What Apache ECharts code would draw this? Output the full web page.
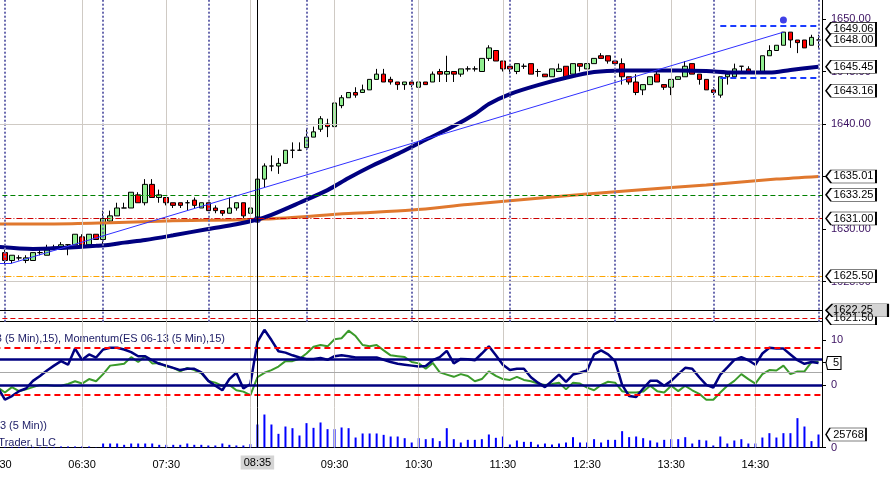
<!DOCTYPE html>
<html>
<head>
<meta charset="utf-8">
<script src="https://cdn.jsdelivr.net/npm/echarts@6/dist/echarts.min.js"></script>
<style>
	html, body { margin: 0; padding: 0; background: #fff; }
	#chart { width: 896px; height: 479px; }
</style>
</head>
<body>
<div id="chart"></div>
<script>
// 5 min bars, 05:30 .. 15:15
var times = [];
for (var m = 5 * 60 + 30; m <= 15 * 60 + 15; m += 5) {
	times.push(('0' + Math.floor(m / 60)).slice(-2) + ':' + ('0' + (m % 60)).slice(-2));
}

// open, close, low, high  (05:35 .. 15:15)
var ohlc = [
	[1627.75, 1627.0, 1626.75, 1628.0], [1627.0, 1627.5, 1626.75, 1627.5], [1627.25, 1627.25, 1627.0, 1627.5],
	[1627.0, 1627.25, 1626.75, 1627.5], [1627.0, 1627.75, 1627.0, 1627.75], [1627.75, 1627.75, 1627.5, 1628.0],
	[1627.5, 1628.0, 1627.5, 1628.5], [1628.25, 1628.25, 1628.0, 1628.5], [1628.25, 1628.5, 1628.0, 1628.75],
	[1628.5, 1628.5, 1627.5, 1628.5], [1628.5, 1629.5, 1628.5, 1629.5], [1629.25, 1628.5, 1628.25, 1629.5],
	[1628.5, 1629.5, 1628.5, 1629.5], [1629.5, 1629.0, 1629.0, 1629.5], [1629.0, 1631.0, 1628.5, 1631.75],
	[1630.75, 1631.25, 1630.5, 1631.75], [1631.25, 1632.0, 1631.25, 1632.5], [1632.0, 1632.0, 1632.0, 1632.5],
	[1632.0, 1633.5, 1632.0, 1633.5], [1633.25, 1632.5, 1632.5, 1633.5], [1632.5, 1634.25, 1632.25, 1634.75],
	[1634.25, 1633.0, 1633.0, 1634.75], [1633.0, 1633.25, 1632.5, 1633.75], [1633.0, 1632.5, 1632.25, 1633.0],
	[1632.5, 1632.25, 1632.0, 1632.5], [1632.5, 1632.25, 1632.0, 1632.5], [1632.5, 1632.5, 1631.75, 1632.75],
	[1632.75, 1632.25, 1632.0, 1633.0], [1632.0, 1632.5, 1632.0, 1632.5], [1632.5, 1631.75, 1631.75, 1632.5],
	[1632.0, 1631.75, 1631.5, 1632.25], [1631.75, 1631.5, 1631.25, 1631.75], [1631.5, 1632.0, 1631.5, 1633.0],
	[1632.0, 1632.5, 1631.75, 1632.5], [1632.5, 1631.25, 1630.75, 1632.5], [1631.5, 1632.0, 1631.25, 1632.0],
	[1631.0, 1634.75, 1630.75, 1635.75], [1634.75, 1636.0, 1634.0, 1636.25], [1636.0, 1636.0, 1635.5, 1637.0],
	[1636.0, 1636.25, 1635.25, 1636.75], [1636.25, 1637.5, 1636.25, 1637.5], [1637.5, 1637.5, 1636.75, 1638.25],
	[1637.5, 1637.5, 1637.5, 1638.25], [1637.75, 1638.75, 1637.5, 1639.5], [1638.75, 1639.25, 1638.75, 1639.75],
	[1639.5, 1640.5, 1639.25, 1640.75], [1640.0, 1639.75, 1638.75, 1640.5], [1639.75, 1642.0, 1639.5, 1642.0],
	[1641.75, 1642.5, 1641.5, 1642.75], [1642.5, 1643.0, 1642.5, 1643.0], [1643.0, 1642.75, 1642.5, 1643.5],
	[1643.0, 1643.25, 1643.0, 1643.75], [1643.25, 1644.25, 1643.25, 1644.25], [1644.25, 1644.75, 1644.25, 1645.25],
	[1644.75, 1644.0, 1644.0, 1645.25], [1644.25, 1644.0, 1643.75, 1644.5], [1644.0, 1643.75, 1643.25, 1644.0],
	[1643.75, 1644.0, 1643.25, 1644.0], [1644.0, 1643.75, 1643.5, 1644.0], [1643.5, 1644.0, 1643.5, 1644.0],
	[1644.0, 1643.75, 1643.75, 1644.0], [1644.0, 1644.75, 1644.0, 1645.0], [1645.0, 1644.75, 1644.0, 1645.25],
	[1644.75, 1645.0, 1644.0, 1646.5], [1645.0, 1644.75, 1644.0, 1645.0], [1644.75, 1645.25, 1644.5, 1645.25],
	[1645.25, 1645.25, 1645.0, 1645.5], [1645.25, 1645.25, 1645.0, 1645.5], [1645.0, 1646.25, 1645.0, 1646.25],
	[1646.25, 1647.25, 1646.0, 1647.5], [1647.0, 1646.0, 1646.0, 1647.0], [1646.0, 1645.25, 1645.0, 1646.0],
	[1645.5, 1645.25, 1644.75, 1645.5], [1645.0, 1645.75, 1644.75, 1645.75], [1645.5, 1645.5, 1645.25, 1645.75],
	[1645.75, 1644.75, 1644.75, 1645.75], [1645.0, 1645.0, 1644.5, 1645.25], [1644.75, 1644.5, 1644.5, 1644.75],
	[1644.5, 1645.25, 1644.5, 1645.25], [1645.0, 1645.25, 1645.0, 1645.75], [1645.5, 1644.5, 1644.5, 1645.5],
	[1644.75, 1645.75, 1644.75, 1645.75], [1645.75, 1645.5, 1645.0, 1645.75], [1645.25, 1645.75, 1645.25, 1645.75],
	[1645.75, 1646.25, 1645.75, 1646.25], [1646.5, 1646.25, 1646.25, 1646.75], [1646.5, 1646.0, 1645.75, 1646.5],
	[1646.0, 1645.75, 1645.75, 1646.0], [1645.75, 1644.5, 1643.75, 1646.25], [1644.5, 1644.0, 1643.75, 1644.5],
	[1644.0, 1643.0, 1642.75, 1644.75], [1643.25, 1643.75, 1642.75, 1643.75], [1643.75, 1644.5, 1643.75, 1644.5],
	[1644.75, 1644.0, 1644.0, 1645.0], [1643.75, 1643.5, 1643.25, 1643.75], [1643.5, 1644.25, 1642.75, 1644.25],
	[1644.25, 1644.5, 1644.25, 1644.5], [1644.5, 1645.5, 1644.5, 1646.0], [1645.75, 1644.75, 1644.75, 1645.75],
	[1644.75, 1644.25, 1643.75, 1644.75], [1644.25, 1643.25, 1643.25, 1644.25], [1643.25, 1643.0, 1642.75, 1643.5],
	[1642.75, 1644.5, 1642.5, 1644.5], [1644.5, 1644.75, 1643.75, 1645.0], [1644.5, 1645.25, 1644.5, 1645.75],
	[1645.5, 1645.5, 1645.0, 1645.5], [1645.25, 1645.0, 1645.0, 1645.5], [1645.0, 1645.0, 1645.0, 1645.25],
	[1645.0, 1646.5, 1645.0, 1646.5], [1646.5, 1647.0, 1646.5, 1647.5], [1647.0, 1647.5, 1647.0, 1647.5],
	[1647.5, 1648.75, 1647.5, 1648.75], [1648.75, 1648.0, 1647.25, 1648.75], [1648.0, 1647.75, 1646.75, 1648.0],
	[1648.0, 1647.25, 1647.25, 1648.0], [1647.5, 1648.25, 1647.5, 1648.5], [1648.0, 1648.0, 1647.25, 1648.5]
];

// moving averages, read at a few bars
var fastMaTimes = ['05:30', '05:55', '06:15', '06:40', '06:50', '07:00', '07:15', '07:35', '08:00', '08:20', '08:35', '08:45',
	'09:05', '09:25', '09:40', '09:55', '10:15', '10:35', '10:55', '11:10', '11:20', '11:35', '11:55', '12:15',
	'12:35', '12:55', '13:35', '13:55', '14:15', '14:40', '14:55', '15:15'];
var fastMaValues = [1628.3, 1628.1, 1628.2, 1628.4, 1628.5, 1628.7, 1628.95, 1629.4, 1630.0, 1630.45, 1630.9, 1631.35,
	1632.5, 1633.7, 1634.85, 1635.9, 1637.15, 1638.5, 1639.8, 1640.95, 1641.9, 1642.85, 1643.7, 1644.4,
	1644.95, 1645.1, 1645.1, 1645.05, 1644.9, 1644.9, 1645.15, 1645.45];
var slowMaTimes = ['05:30', '06:10', '06:45', '07:30', '08:40', '09:40', '10:25', '11:05', '12:05', '12:55', '13:55', '14:45', '15:15'];
var slowMaValues = [1630.48, 1630.48, 1630.57, 1630.76, 1630.95, 1631.48, 1631.8, 1632.33, 1633.05, 1633.6, 1634.2, 1634.75, 1635.01];

// indicator panel (05:30 .. 15:15)
var momNavy = [-0.6, -3.3, -2.5, -1.4, -0.8, 0.9, 2.0, 3.2, 4.3, 5.3, 4.5, 8.1, 5.6, 6.8, 6.1, 7.9, 8.3, 8.3, 7.9, 7.3,
	6.4, 6.4, 5.5, 4.7, 4.3, 3.8, 3.3, 3.6, 3.6, 2.8, 0.9, -0.2, -1.2, 1.3, 2.7, -0.8, 0.2, 9.6, 12.3, 10.0,
	7.5, 7.2, 6.6, 6.1, 5.8, 5.8, 6.0, 5.6, 6.4, 6.6, 6.4, 6.1, 6.1, 6.1, 6.1, 5.6, 5.1, 4.7, 4.5, 4.3,
	4.1, 4.2, 5.5, 6.2, 7.6, 4.8, 5.8, 5.7, 5.5, 7.0, 8.6, 6.6, 4.5, 3.3, 3.6, 3.6, 1.7, 0.5, -0.5, 0.9,
	2.3, 0.7, 2.3, 2.7, 3.2, 6.8, 7.7, 6.8, 5.3, 0.0, -2.5, -2.7, -0.8, 0.9, 0.9, -0.2, 0.9, 2.4, 3.8, 3.6,
	1.7, 0.0, -0.6, 2.3, 3.9, 5.6, 6.2, 5.5, 4.5, 7.0, 8.3, 8.1, 8.1, 6.8, 5.5, 4.7, 5.1, 4.9];
var momGreen = [-0.6, -1.7, -0.5, -1.4, -1.0, -0.5, 0.0, 0.0, -0.2, -0.2, 0.2, 0.8, 0.3, 1.3, 0.8, 2.4, 4.3, 4.5, 4.7, 6.2,
	5.1, 6.4, 4.8, 4.9, 4.1, 3.8, 3.0, 3.8, 3.3, 2.6, 0.9, 0.5, -0.2, 0.0, -1.2, -1.5, -2.3, 1.7, 2.7, 3.3,
	4.1, 5.3, 5.3, 5.8, 7.0, 8.5, 8.9, 8.6, 10.2, 10.4, 12.1, 10.9, 8.9, 8.6, 8.9, 7.7, 6.6, 6.4, 6.2, 5.1,
	4.8, 3.6, 4.9, 2.8, 2.3, 1.8, 2.4, 2.0, 0.8, 1.3, 3.0, 2.0, 1.3, 1.1, 1.8, 1.1, 0.8, 0.3, 0.0, 0.2,
	0.5, -1.0, 0.5, 0.3, -0.6, -1.2, 0.0, 0.7, 0.5, -1.4, -1.7, -1.7, -1.5, -0.2, -1.4, -1.7, -0.2, -1.4, -0.2, -1.2,
	-2.0, -3.3, -3.3, -1.7, -0.2, 0.9, 2.4, 1.3, 0.3, 2.4, 3.3, 3.2, 4.3, 2.4, 3.0, 3.0, 5.1, 5.1];

// volume (05:35 .. 15:15)
var volumes = [1200, 1200, 1200, 1200, 1200, 1200, 1200, 1200, 2000, 2000, 2000, 2000, 2000, 600,
	7900, 7900, 7900, 5300, 7900, 7900, 7900, 7900, 5300, 5300, 5300, 5300, 7900, 5300, 5300, 4000, 4000, 7900, 5300, 4000, 4000, 6600,
	45600, 65400, 45600, 27100, 41600, 38300, 23800, 48300, 39000, 49600, 36400, 36400, 39700, 38300, 19800, 27800, 27800, 27800,
	25100, 21800, 21800, 18500, 9900, 18500, 16500, 18500, 12600, 38300,
	16500, 9900, 15200, 15200, 16500, 25800, 19200, 21800, 5900, 13900, 11200, 11200, 5900, 7900, 5900, 7900, 9900, 20500,
	9900, 9900, 16500, 9900, 15200, 15200, 32400, 20500, 21800, 18500, 13900, 9900, 15200, 16500, 16500, 20500, 7900, 15200,
	13900, 4000, 21800, 7900, 13900, 16500, 7900, 7900, 19800, 28400, 19800, 28400, 28400, 58200, 41600, 12600, 25768];

// price tags on the right axis
var priceTags = [1649.06, 1648.00, 1645.45, 1643.16, 1635.01, 1633.25, 1631.00, 1625.50, 1621.50];
var cursorTime = '08:35';
var cursorPrice = 1622.25;
var momTag = 4.9;
var volTag = 25768;

var FONT = 'Liberation Sans';
var lastTime = times[times.length - 1];
var halfHours = times.filter(function(t) { return t.slice(3) === '30'; });
var dotTimes = ['05:35', '06:45', '08:00', '09:10', '10:25', '11:35', '12:50', '14:00', '15:15'];

function pairs(ts, vs) {
	return ts.map(function(t, i) { return [t, vs[i]]; });
}
function vLines(list, style) {
	return list.map(function(t) { return { xAxis: t, lineStyle: style }; });
}
// arrow shaped value tag hanging off the right axis
function tag(v, text, w, bg, dx) {
	return {
		coord: [lastTime, v],
		value: text,
		symbol: 'path://M0,6L6,0H60V12H6Z',
		symbolSize: [w, 13],
		symbolKeepAspect: false,
		symbolOffset: [7.5 + w / 2, 0],
		itemStyle: { color: bg || '#fff', borderColor: '#000', borderWidth: 1 },
		label: {
			show: true, position: 'inside', offset: [dx === undefined ? 2.5 : dx, 0], formatter: text,
			color: '#000', fontFamily: FONT, fontSize: 11
		}
	};
}
function tags(data) {
	return { silent: true, animation: false, emphasis: { disabled: true }, data: data };
}

var gridLine = { color: '#cfcac4', width: 1, type: 'solid' };
var cursorLine = { color: '#000', width: 1, type: 'solid' };

var candleData = [['-', '-', '-', '-']].concat(ohlc);
var volData = ['-'].concat(volumes);

var priceLevels = vLines(halfHours, gridLine)
	.concat(vLines(dotTimes, { color: '#6b6bb0', width: 2, type: [2, 2] }))
	.concat([
		{ yAxis: 1640, lineStyle: gridLine },
		{ yAxis: 1625, lineStyle: gridLine },
		{ yAxis: 1633.25, lineStyle: { color: '#008000', width: 1, type: [5, 3] } },
		{ yAxis: 1631.00, lineStyle: { color: '#cc0000', width: 1, type: [6, 2, 1, 2] } },
		{ yAxis: 1625.50, lineStyle: { color: '#ffa500', width: 1, type: [6, 2, 1, 2] } },
		{ yAxis: 1621.50, lineStyle: { color: '#e00000', width: 1, type: [5, 3] } },
		[{ coord: ['05:30', 1626.75] }, { coord: ['05:40', 1626.75], lineStyle: { color: '#3030ff', width: 1, type: 'solid' } }],
		[{ coord: ['05:40', 1626.75] }, { coord: ['14:50', 1648.75], lineStyle: { color: '#3030ff', width: 1, type: 'solid' } }],
		[{ coord: ['14:05', 1649.4] }, { coord: ['15:15', 1649.4], lineStyle: { color: '#1a3cff', width: 2, type: [6, 4] } }],
		[{ coord: ['14:05', 1644.4] }, { coord: ['15:15', 1644.4], lineStyle: { color: '#1a3cff', width: 2, type: [6, 4] } }]
	]);

var momLevels = vLines(halfHours, gridLine).concat([
	{ yAxis: 8.3, lineStyle: { color: '#ff0000', width: 2, type: [6, 4] } },
	{ yAxis: -2.3, lineStyle: { color: '#ff0000', width: 2, type: [6, 4] } },
	{ yAxis: 5.75, lineStyle: { color: '#000080', width: 2.5, type: 'solid' } },
	{ yAxis: 0, lineStyle: { color: '#000080', width: 2.5, type: 'solid' } },
	{ yAxis: 2.8, lineStyle: { color: '#a8a8a8', width: 1, type: 'solid' } }
]);

var markBase = { silent: true, symbol: ['none', 'none'], animation: false, label: { show: false }, emphasis: { disabled: true } };
function mark(data) {
	return Object.assign({}, markBase, { data: data });
}

var xBase = {
	type: 'category', data: times, boundaryGap: true,
	axisLine: { show: true, lineStyle: { color: '#000', width: 1 } },
	axisTick: { show: false }, axisLabel: { show: false }, splitLine: { show: false }
};
var yBase = {
	type: 'value', position: 'right',
	axisLine: { show: true, lineStyle: { color: '#000', width: 1 } },
	axisTick: { show: true, length: 4, lineStyle: { color: '#000' } },
	splitLine: { show: false }
};
var labelBase = { color: '#3a1060', fontFamily: FONT, fontSize: 11, margin: 9, showMinLabel: false, showMaxLabel: false };
var gridBase = { left: -5.6, right: 74, containLabel: false, outerBoundsMode: 'none' };
var textStyle = { align: 'right', verticalAlign: 'middle', fill: '#1c1c66', font: '11px ' + FONT };

var chart = echarts.init(document.getElementById('chart'));
chart.setOption({
	animation: false,
	backgroundColor: '#fff',
	grid: [
		Object.assign({}, gridBase, { top: 0, height: 321.7 }),
		Object.assign({}, gridBase, { top: 321.7, height: 85.6 }),
		Object.assign({}, gridBase, { top: 407.3, height: 40.2 })
	],
	xAxis: [
		Object.assign({}, xBase, { gridIndex: 0 }),
		Object.assign({}, xBase, { gridIndex: 1 }),
		Object.assign({}, xBase, {
			gridIndex: 2, offset: 2.5,
			axisLabel: {
				show: true, color: '#000', fontFamily: FONT, fontSize: 11, margin: 9,
				interval: function(i, v) { return v.slice(3) === '30' && v !== '08:30'; }
			}
		})
	],
	yAxis: [
		Object.assign({}, yBase, {
			gridIndex: 0, min: 1621.17, max: 1651.81, splitNumber: 6,
			axisLabel: Object.assign({}, labelBase, { formatter: function(v) { return v.toFixed(2); } })
		}),
		Object.assign({}, yBase, {
			gridIndex: 1, min: -5, max: 14.1, interval: 5,
			axisLabel: Object.assign({}, labelBase, { formatter: function(v) { return v >= 0 && v <= 10 ? String(v) : ''; } })
		}),
		Object.assign({}, yBase, {
			gridIndex: 2, min: 0, max: 79700, interval: 79700,
			axisLabel: Object.assign({}, labelBase, { showMinLabel: true })
		})
	],
	graphic: [
		{ type: 'text', x: 225, y: 339, silent: true, style: Object.assign({ text: 'DMI(ES 06-13 (5 Min),15), Momentum(ES 06-13 (5 Min),15)' }, textStyle) },
		{ type: 'text', x: 47, y: 426, silent: true, style: Object.assign({ text: 'Volume(ES 06-13 (5 Min))' }, textStyle) },
		{ type: 'text', x: 56, y: 443, silent: true, style: Object.assign({ text: '\u00a9 2013 NinjaTrader, LLC' }, textStyle) }
	],
	series: [
		{
			name: 'levels', type: 'line', xAxisIndex: 0, yAxisIndex: 0, data: [], z: 1,
			markLine: mark(priceLevels)
		},
		{
			name: 'ES 06-13', type: 'candlestick', xAxisIndex: 0, yAxisIndex: 0, z: 2,
			data: candleData, barWidth: 5,
			itemStyle: { color: '#90ee90', color0: '#ff0000', borderColor: '#000', borderColor0: '#000', borderColorDoji: '#000', borderWidth: 1 },
			emphasis: { disabled: true }
		},
		{
			name: 'slow', type: 'line', xAxisIndex: 0, yAxisIndex: 0, z: 3,
			data: pairs(slowMaTimes, slowMaValues), smooth: 0.3, showSymbol: false,
			lineStyle: { color: '#e0782e', width: 3 }
		},
		{
			name: 'fast', type: 'line', xAxisIndex: 0, yAxisIndex: 0, z: 3,
			data: pairs(fastMaTimes, fastMaValues), smooth: 0.3, showSymbol: false,
			lineStyle: { color: '#000080', width: 4 }
		},
		{
			name: 'dots', type: 'scatter', xAxisIndex: 0, yAxisIndex: 0, z: 4, symbolSize: 7,
			data: [
				{ value: [cursorTime, 1630.9], itemStyle: { color: '#000080' } },
				{ value: ['14:50', 1649.9], itemStyle: { color: '#1010e0' } }
			]
		},
		{
			name: 'tags', type: 'line', xAxisIndex: 0, yAxisIndex: 0, data: [], z: 5,
			markLine: mark(vLines([cursorTime], cursorLine).concat([{ yAxis: cursorPrice, lineStyle: cursorLine }])),
			markPoint: tags(priceTags.map(function(v) { return tag(v, v.toFixed(2), 50); })
				.concat([tag(cursorPrice, cursorPrice.toFixed(2), 62, '#d4d4d4', -4)]))
		},
		{
			name: 'momLevels', type: 'line', xAxisIndex: 1, yAxisIndex: 1, data: [], z: 1,
			markLine: mark(momLevels)
		},
		{
			name: 'DMI', type: 'line', xAxisIndex: 1, yAxisIndex: 1, z: 2,
			data: momGreen, showSymbol: false, lineStyle: { color: '#3a9a2a', width: 2 }
		},
		{
			name: 'Momentum', type: 'line', xAxisIndex: 1, yAxisIndex: 1, z: 3,
			data: momNavy, showSymbol: false, lineStyle: { color: '#000080', width: 2.5 },
			markLine: mark(vLines([cursorTime], cursorLine)),
			markPoint: tags([tag(momTag, '5', 15)])
		},
		{
			name: 'Volume', type: 'bar', xAxisIndex: 2, yAxisIndex: 2, z: 2,
			data: volData, barWidth: 2, itemStyle: { color: '#0000ff' },
			markLine: mark(vLines(halfHours, gridLine).concat([
				{
					xAxis: cursorTime, lineStyle: cursorLine,
					label: { show: true, position: 'start', distance: 8, formatter: cursorTime, color: '#000', fontFamily: FONT, fontSize: 11, backgroundColor: '#d4d4d4', padding: [2, 3, 1, 3] }
				}
			])),
			markPoint: tags([tag(volTag, String(volTag), 40)])
		}
	]
});
</script>
</body>
</html>
